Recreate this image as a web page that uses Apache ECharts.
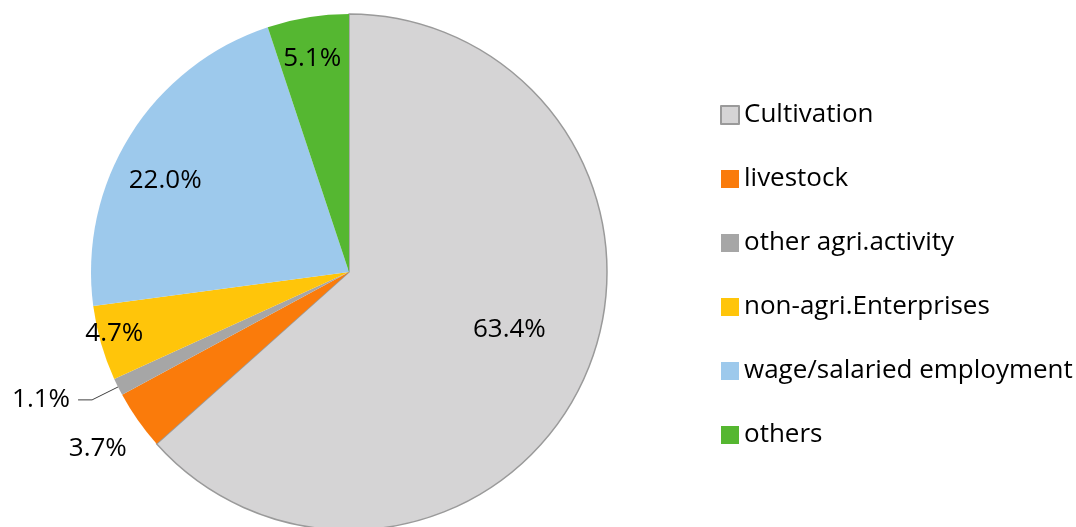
<!DOCTYPE html>
<html>
<head>
<meta charset="utf-8">
<script src="https://cdn.jsdelivr.net/npm/echarts@6/dist/echarts.min.js"></script>
<style>
  html, body { margin: 0; padding: 0; background: #ffffff; }
  #chart { width: 1076px; height: 527px; }
</style>
</head>
<body>
<div id="chart"></div>
<script>
// ---- data ----
const categories = ['Cultivation', 'livestock', 'other agri.activity', 'non-agri.Enterprises', 'wage/salaried employment', 'others'];
const shares = [63.4, 3.7, 1.1, 4.7, 22.0, 5.1];

// ---- styles / layout ----
const colors = ['#d5d4d5', '#fa7b0b', '#a6a6a6', '#ffc50a', '#9dc9ec', '#55b731'];
const labelPlacement = ['inside', 'inside', 'outside', 'inside', 'inside', 'inside'];
const labelDist = [0.66, 1.19, null, 0.94, 0.795, 0.84];   // fraction of radius
const labelNudge = [-4.5, 0, 0, 1.4, -5.7, -0.6];           // degrees
const CX = 349, CY = 272, R = 258;
const FONT = '"Open Sans", "Noto Sans", sans-serif';

const total = shares.reduce((a, b) => a + b, 0);
const midAngles = [];
let cum = 0;
shares.forEach(v => { midAngles.push((cum + v / 2) / total * 360); cum += v; });

const chart = echarts.init(document.getElementById('chart'), null, { renderer: 'canvas' });

const seriesData = categories.map((name, i) => ({
  name: name,
  value: shares[i],
  itemStyle: i === 0
    ? { color: colors[i], borderColor: '#9a9a9a', borderWidth: 1.5 }
    : { color: colors[i], borderWidth: 0 },
  label: { position: labelPlacement[i] },
  labelLine: { show: labelPlacement[i] === 'outside' }
}));

chart.setOption({
  animation: false,
  backgroundColor: '#ffffff',
  legend: {
    orient: 'vertical',
    left: 715,
    top: 97,
    itemWidth: 18,
    itemHeight: 18,
    itemGap: 38,
    icon: 'rect',
    data: categories,
    textStyle: { fontFamily: FONT, fontSize: 26, color: '#000000', lineHeight: 26 },
    selectedMode: false
  },
  series: [{
    type: 'pie',
    center: [CX, CY],
    radius: [0, R],
    startAngle: 90,
    clockwise: true,
    avoidLabelOverlap: false,
    emphasis: { disabled: true },
    silent: true,
    label: {
      show: true,
      fontFamily: FONT,
      fontSize: 26,
      color: '#000000',
      formatter: p => p.value.toFixed(1) + '%',
      distanceToLabelLine: 8
    },
    labelLine: {
      show: false,
      length: 29,
      length2: 14,
      smooth: false,
      lineStyle: { color: '#404040', width: 1 }
    },
    labelLayout: function (p) {
      const i = p.dataIndex;
      if (labelDist[i] == null) return {};
      const a = (midAngles[i] + labelNudge[i]) * Math.PI / 180;
      const d = labelDist[i] * R;
      return {
        x: CX + d * Math.sin(a),
        y: CY - d * Math.cos(a),
        align: 'center',
        verticalAlign: 'middle'
      };
    },
    data: seriesData
  }]
});
</script>
</body>
</html>
